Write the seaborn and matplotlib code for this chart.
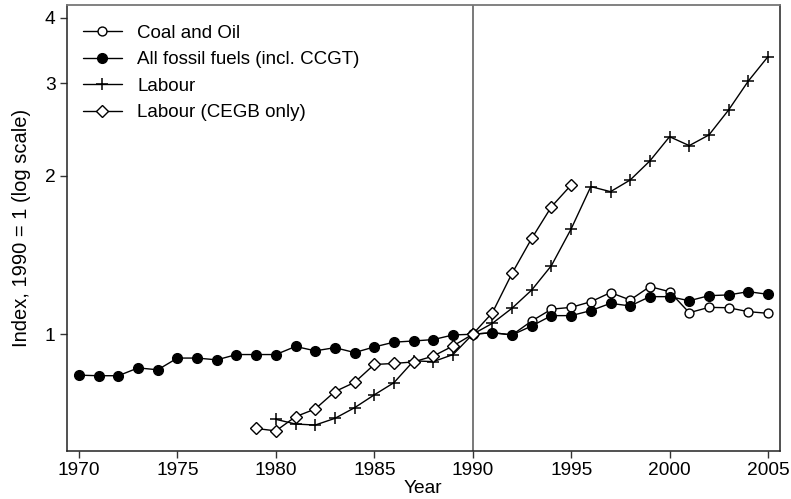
import matplotlib
matplotlib.use("Agg")
import matplotlib.pyplot as plt
from matplotlib.ticker import FixedLocator, FixedFormatter, NullLocator
import seaborn as sns
import pandas as pd

sns.set_theme(style="white")
plt.rcParams["font.family"] = ["Liberation Sans", "DejaVu Sans"]

# Index values, 1990 = 1
years_fossil = list(range(1970, 2006))
all_fossil = [0.836, 0.834, 0.834, 0.863, 0.856, 0.901, 0.901, 0.894, 0.915, 0.915,
              0.915, 0.948, 0.930, 0.943, 0.923, 0.946, 0.966, 0.971, 0.977, 0.997,
              1.000, 1.007, 0.997, 1.037, 1.085, 1.085, 1.109, 1.145, 1.132, 1.179,
              1.179, 1.158, 1.184, 1.188, 1.205, 1.191]

years_coal_oil = list(range(1990, 2006))
coal_oil = [1.000, 1.007, 0.997, 1.060, 1.116, 1.125, 1.153, 1.200, 1.162, 1.232,
            1.205, 1.099, 1.125, 1.123, 1.104, 1.096]

years_labour = list(range(1980, 2006))
labour = [0.689, 0.675, 0.672, 0.692, 0.725, 0.767, 0.809, 0.890, 0.887, 0.915,
          1.000, 1.049, 1.121, 1.214, 1.351, 1.586, 1.909, 1.867, 1.965, 2.136,
          2.375, 2.284, 2.393, 2.670, 3.030, 3.372]

years_cegb = list(range(1979, 1996))
labour_cegb = [0.662, 0.655, 0.697, 0.721, 0.778, 0.810, 0.876, 0.880, 0.886, 0.909,
               0.950, 1.000, 1.099, 1.306, 1.522, 1.748, 1.922]

y_ticks = [1, 2, 3, 4]
x_ticks = [1970, 1975, 1980, 1985, 1990, 1995, 2000, 2005]

W, H = 791, 499
fig = plt.figure(figsize=(W / 100, H / 100), dpi=100)
ax = fig.add_axes([66.7 / W, 1 - 450.7 / H, (780 - 66.7) / W, (450.7 - 4.7) / H])

ax.axvline(1990, color="#555555", lw=1.1, zorder=1)

series = [
    ("Coal and Oil", years_coal_oil, coal_oil, dict(marker="o", ms=6.4, mfc="white", mec="black", mew=1.0)),
    ("All fossil fuels (incl. CCGT)", years_fossil, all_fossil, dict(marker="o", ms=7, mfc="black", mec="black", mew=1.0)),
    ("Labour", years_labour, labour, dict(marker="+", ms=8.5, mec="black", mew=1.1)),
    ("Labour (CEGB only)", years_cegb, labour_cegb, dict(marker="D", ms=6.4, mfc="white", mec="black", mew=1.0)),
]

for i, (name, xs, ys, style) in enumerate(series):
    df = pd.DataFrame({"Year": xs, "Index": ys})
    sns.lineplot(data=df, x="Year", y="Index", ax=ax, color="black", lw=1.0,
                 label=name, zorder=3 + i, **style)

ax.set_yscale("log")
ax.set_ylim(0.6006, 4.233)
ax.set_xlim(1969.375, 2005.61)
ax.yaxis.set_major_locator(FixedLocator(y_ticks))
ax.yaxis.set_major_formatter(FixedFormatter([str(t) for t in y_ticks]))
ax.yaxis.set_minor_locator(NullLocator())
ax.set_xticks(x_ticks)
ax.set_xticklabels([str(t) for t in x_ticks])

ax.tick_params(axis="both", which="major", direction="out", length=5, width=1.0,
               color="#333333", labelsize=13.8, pad=3, labelcolor="black",
               bottom=True, left=True)
ax.set_xlabel("Year", fontsize=13.8, color="black", labelpad=1)
ax.set_ylabel("Index, 1990 = 1 (log scale)", fontsize=14.5, color="black", labelpad=10)

for side in ["left", "bottom", "right"]:
    ax.spines[side].set_color("#222222")
    ax.spines[side].set_linewidth(1.1)
ax.spines["top"].set_color("#777777")
ax.spines["top"].set_linewidth(1.3)

leg = ax.legend(loc="upper left", bbox_to_anchor=(16 / 713.3, 1 - 20 / 446),
                frameon=False, fontsize=13.5, handlelength=2.1, handletextpad=0.8,
                labelspacing=0.5, borderpad=0, borderaxespad=0, numpoints=1)
for t in leg.get_texts():
    t.set_color("black")

fig.savefig("out.png", dpi=100)
